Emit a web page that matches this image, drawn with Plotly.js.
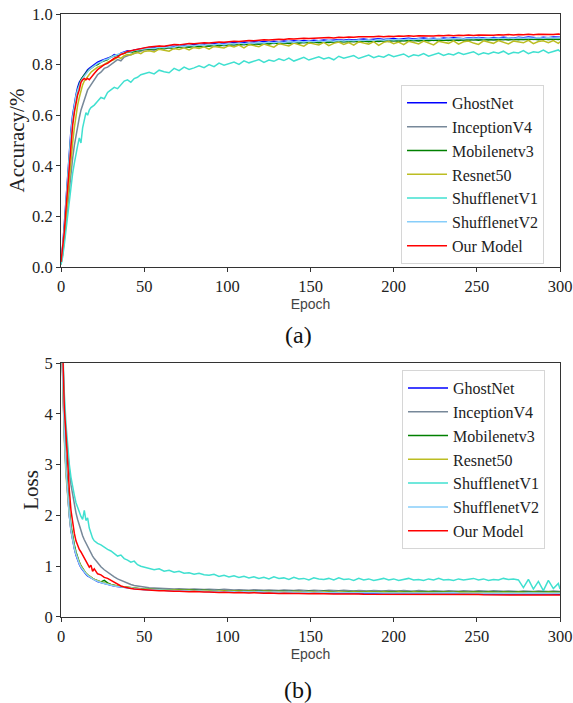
<!DOCTYPE html>
<html>
<head>
<meta charset="utf-8">
<script src="https://cdn.plot.ly/plotly-3.0.1.min.js"></script>
<style>html,body{margin:0;padding:0;background:#fff;}#chart{width:573px;height:703px;}</style>
</head>
<body>
<div id="chart"></div>
<script>
const modelNames = ["GhostNet","InceptionV4","Mobilenetv3","Resnet50","ShufflenetV1","ShufflenetV2","Our Model"];

const epochs = [0,1,2,3,4,5,6,7,8,9,10,11,12,13,14,15,16,17,18,19,20,
22,24,26,28,30,32,34,36,38,40,42,44,46,48,50,
53,56,59,62,65,68,71,74,77,80,83,86,89,92,95,98,101,104,107,110,
113,116,119,122,125,128,131,134,137,140,143,146,149,152,155,158,161,164,167,170,
173,176,179,182,185,188,191,194,197,200,203,206,209,212,215,218,221,224,227,230,
233,236,239,242,245,248,251,254,257,260,263,266,269,272,275,278,281,284,287,290,
293,296,299,300];

// ---- Accuracy ----
const accGhostNet = [0.02,0.08,0.17,0.27,0.37,0.46,0.54,0.60,0.65,0.68,0.71,0.73,0.74,0.75,0.765,0.77,0.78,0.785,0.79,0.795,0.80,
0.81,0.815,0.82,0.825,0.83,0.84,0.835,0.845,0.85,0.855,0.852,0.858,0.86,0.862,0.865,
0.868,0.866,0.872,0.870,0.874,0.872,0.876,0.878,0.875,0.880,
0.879,0.882,0.880,0.884,0.882,0.886,0.884,0.887,0.885,0.889,
0.887,0.890,0.888,0.891,0.889,0.892,0.890,0.893,0.891,0.894,
0.892,0.895,0.893,0.896,0.894,0.897,0.895,0.896,0.898,0.896,
0.899,0.897,0.899,0.901,0.898,0.900,0.902,0.899,0.901,0.903,
0.900,0.902,0.904,0.901,0.903,0.905,0.902,0.904,0.901,0.905,
0.903,0.906,0.904,0.902,0.906,0.904,0.907,0.905,0.903,0.907,
0.905,0.908,0.906,0.904,0.908,0.906,0.909,0.907,0.905,0.908,
0.906,0.909,0.907,0.908];
const accInceptionV4 = [0.01,0.05,0.11,0.18,0.25,0.32,0.38,0.43,0.48,0.52,0.56,0.59,0.62,0.64,0.66,0.68,0.70,0.71,0.72,0.73,0.74,
0.76,0.77,0.785,0.79,0.80,0.81,0.82,0.815,0.83,0.835,0.84,0.845,0.848,0.852,0.858,
0.860,0.857,0.864,0.862,0.867,0.863,0.870,0.868,0.872,0.869,
0.874,0.871,0.876,0.873,0.878,0.875,0.880,0.877,0.881,0.878,
0.883,0.880,0.884,0.882,0.886,0.883,0.887,0.884,0.888,0.885,
0.889,0.886,0.890,0.887,0.891,0.888,0.892,0.889,0.893,0.890,
0.894,0.890,0.895,0.892,0.894,0.891,0.896,0.893,0.897,0.893,
0.896,0.894,0.898,0.894,0.897,0.895,0.899,0.895,0.898,0.896,
0.900,0.896,0.899,0.897,0.901,0.897,0.900,0.898,0.901,0.897,
0.900,0.898,0.902,0.898,0.901,0.899,0.902,0.899,0.901,0.900,
0.902,0.899,0.901,0.900];
const accMobilenetv3 = [0.02,0.07,0.15,0.25,0.35,0.44,0.52,0.58,0.63,0.67,0.70,0.72,0.74,0.75,0.76,0.765,0.775,0.78,0.785,0.79,0.795,
0.80,0.81,0.815,0.82,0.83,0.835,0.838,0.842,0.845,0.85,0.848,0.853,0.855,0.858,0.862,
0.863,0.861,0.866,0.864,0.868,0.866,0.870,0.872,0.869,0.873,
0.871,0.875,0.873,0.877,0.874,0.878,0.876,0.880,0.877,0.881,
0.879,0.882,0.880,0.883,0.881,0.885,0.882,0.886,0.883,0.887,
0.884,0.888,0.885,0.889,0.886,0.889,0.887,0.890,0.888,0.891,
0.889,0.892,0.889,0.893,0.890,0.893,0.891,0.894,0.891,0.895,
0.892,0.895,0.893,0.896,0.893,0.896,0.894,0.897,0.894,0.897,
0.895,0.898,0.895,0.898,0.896,0.899,0.896,0.899,0.897,0.899,
0.897,0.900,0.897,0.900,0.898,0.900,0.898,0.901,0.898,0.901,
0.899,0.901,0.899,0.900];
const accResnet50 = [0.01,0.05,0.12,0.20,0.28,0.36,0.43,0.49,0.55,0.60,0.64,0.67,0.70,0.72,0.735,0.745,0.755,0.76,0.77,0.775,0.78,
0.79,0.795,0.80,0.81,0.815,0.82,0.83,0.825,0.835,0.84,0.838,0.845,0.848,0.843,0.852,
0.855,0.850,0.861,0.857,0.853,0.864,0.860,0.866,0.858,0.868,
0.864,0.870,0.861,0.872,0.869,0.866,0.875,0.870,0.877,0.866,
0.879,0.874,0.871,0.881,0.876,0.869,0.883,0.879,0.874,0.885,
0.880,0.873,0.886,0.882,0.878,0.888,0.875,0.884,0.889,0.880,
0.887,0.877,0.890,0.885,0.881,0.891,0.876,0.888,0.892,0.883,
0.889,0.879,0.892,0.887,0.882,0.893,0.886,0.878,0.892,0.888,
0.884,0.894,0.881,0.890,0.893,0.885,0.880,0.894,0.889,0.884,
0.895,0.887,0.882,0.893,0.890,0.886,0.896,0.883,0.891,0.894,
0.887,0.895,0.884,0.890];
const accShufflenetV1 = [0.01,0.04,0.09,0.15,0.21,0.27,0.32,0.37,0.41,0.45,0.48,0.51,0.49,0.55,0.58,0.61,0.60,0.62,0.63,0.635,0.64,
0.655,0.67,0.665,0.69,0.70,0.71,0.705,0.72,0.735,0.74,0.73,0.745,0.75,0.76,0.765,
0.77,0.763,0.778,0.772,0.768,0.785,0.776,0.79,0.781,0.787,
0.795,0.788,0.80,0.792,0.806,0.798,0.803,0.81,0.801,0.815,
0.807,0.812,0.82,0.809,0.818,0.813,0.823,0.816,0.826,0.814,
0.821,0.829,0.818,0.826,0.831,0.822,0.828,0.819,0.833,0.825,
0.83,0.836,0.824,0.832,0.838,0.827,0.834,0.829,0.84,0.831,
0.837,0.842,0.83,0.839,0.835,0.844,0.833,0.841,0.846,0.836,
0.843,0.838,0.848,0.84,0.845,0.851,0.839,0.847,0.842,0.85,
0.845,0.853,0.841,0.849,0.846,0.855,0.843,0.851,0.848,0.857,
0.846,0.853,0.858,0.852];
const accShufflenetV2 = [0.02,0.08,0.16,0.26,0.36,0.45,0.53,0.59,0.64,0.675,0.70,0.72,0.735,0.745,0.755,0.765,0.77,0.78,0.785,0.79,0.795,
0.805,0.81,0.818,0.822,0.83,0.835,0.84,0.843,0.848,0.852,0.85,0.856,0.858,0.861,0.864,
0.866,0.864,0.869,0.867,0.871,0.869,0.874,0.872,0.876,0.874,
0.878,0.876,0.880,0.878,0.882,0.879,0.883,0.881,0.885,0.882,
0.886,0.884,0.887,0.885,0.889,0.886,0.890,0.887,0.891,0.888,
0.892,0.889,0.893,0.890,0.894,0.891,0.895,0.892,0.896,0.893,
0.896,0.894,0.897,0.895,0.898,0.895,0.899,0.896,0.900,0.897,
0.900,0.898,0.901,0.898,0.902,0.899,0.902,0.900,0.903,0.900,
0.903,0.901,0.904,0.901,0.904,0.902,0.905,0.902,0.905,0.903,
0.905,0.903,0.906,0.903,0.906,0.904,0.906,0.904,0.907,0.904,
0.907,0.905,0.907,0.906];
const accOurModel = [0.02,0.07,0.14,0.23,0.32,0.41,0.49,0.56,0.61,0.65,0.68,0.70,0.73,0.74,0.745,0.74,0.745,0.74,0.75,0.755,0.765,
0.78,0.79,0.80,0.805,0.815,0.825,0.83,0.84,0.845,0.852,0.855,0.858,0.862,0.865,0.868,
0.870,0.872,0.874,0.873,0.877,0.879,0.878,0.881,0.883,0.882,
0.885,0.886,0.885,0.888,0.889,0.888,0.891,0.892,0.891,0.894,
0.895,0.894,0.897,0.898,0.897,0.899,0.900,0.899,0.902,0.901,
0.903,0.904,0.903,0.905,0.904,0.906,0.907,0.905,0.908,0.907,
0.909,0.908,0.910,0.909,0.911,0.910,0.912,0.910,0.912,0.911,
0.913,0.912,0.914,0.912,0.914,0.913,0.915,0.913,0.915,0.914,
0.916,0.914,0.916,0.915,0.917,0.915,0.917,0.916,0.918,0.916,
0.918,0.917,0.919,0.917,0.919,0.918,0.920,0.918,0.920,0.919,
0.921,0.919,0.921,0.920];

// ---- Loss ----
const lossGhostNet = [6.0,4.6,3.6,2.9,2.4,2.0,1.7,1.5,1.35,1.22,1.12,1.04,0.97,0.92,0.88,0.84,0.81,0.79,0.77,0.75,0.73,
0.70,0.68,0.66,0.64,0.62,0.61,0.60,0.59,0.58,0.57,0.565,0.56,0.55,0.545,0.54,
0.535,0.53,0.525,0.528,0.52,0.515,0.518,0.51,0.507,0.51,
0.503,0.50,0.504,0.498,0.495,0.499,0.493,0.49,0.494,0.488,
0.486,0.49,0.484,0.482,0.487,0.48,0.478,0.483,0.477,0.475,
0.48,0.474,0.472,0.477,0.471,0.47,0.475,0.469,0.468,0.473,
0.467,0.466,0.471,0.465,0.464,0.469,0.463,0.462,0.468,0.462,
0.461,0.466,0.46,0.46,0.465,0.459,0.458,0.464,0.458,0.457,
0.463,0.457,0.456,0.462,0.456,0.455,0.461,0.455,0.454,0.46,
0.454,0.453,0.459,0.453,0.452,0.458,0.452,0.452,0.457,0.451,
0.451,0.456,0.45,0.45];
const lossInceptionV4 = [6.2,5.0,4.2,3.6,3.2,2.9,2.6,2.4,2.2,2.05,1.92,1.8,1.7,1.6,1.52,1.45,1.38,1.32,1.26,1.2,1.15,
1.06,0.99,0.93,0.88,0.84,0.79,0.75,0.72,0.69,0.66,0.64,0.62,0.61,0.595,0.585,
0.575,0.57,0.562,0.566,0.555,0.552,0.558,0.548,0.545,0.552,
0.542,0.54,0.547,0.537,0.535,0.545,0.533,0.531,0.538,0.529,
0.528,0.536,0.526,0.525,0.533,0.524,0.522,0.531,0.521,0.52,
0.53,0.519,0.518,0.528,0.517,0.516,0.526,0.516,0.515,0.525,
0.514,0.514,0.524,0.513,0.512,0.523,0.512,0.511,0.522,0.511,
0.51,0.521,0.51,0.509,0.52,0.509,0.508,0.519,0.508,0.508,
0.518,0.507,0.507,0.517,0.506,0.506,0.516,0.506,0.505,0.515,
0.505,0.505,0.514,0.504,0.504,0.513,0.504,0.503,0.512,0.503,
0.503,0.511,0.502,0.502];
const lossMobilenetv3 = [6.0,4.7,3.7,3.0,2.5,2.1,1.8,1.58,1.42,1.28,1.17,1.08,1.01,0.95,0.9,0.86,0.83,0.8,0.78,0.76,0.74,
0.71,0.69,0.72,0.67,0.64,0.62,0.61,0.6,0.59,0.58,0.575,0.57,0.56,0.555,0.55,
0.545,0.54,0.543,0.535,0.532,0.536,0.528,0.525,0.53,0.522,
0.52,0.525,0.517,0.515,0.521,0.513,0.511,0.517,0.509,0.508,
0.514,0.506,0.505,0.511,0.504,0.503,0.509,0.502,0.501,0.507,
0.5,0.499,0.506,0.498,0.498,0.505,0.497,0.496,0.504,0.496,
0.495,0.503,0.495,0.494,0.502,0.494,0.493,0.501,0.493,0.492,
0.5,0.492,0.491,0.5,0.491,0.491,0.499,0.49,0.49,0.498,
0.49,0.489,0.498,0.489,0.489,0.497,0.488,0.488,0.497,0.488,
0.487,0.496,0.487,0.487,0.496,0.486,0.486,0.495,0.486,0.486,
0.495,0.485,0.486,0.494];
const lossResnet50 = [5.9,4.5,3.5,2.8,2.35,2.0,1.72,1.52,1.37,1.25,1.15,1.07,1.0,0.95,0.9,0.86,0.83,0.8,0.78,0.76,0.74,
0.71,0.69,0.67,0.65,0.63,0.62,0.61,0.6,0.59,0.58,0.57,0.565,0.56,0.55,0.545,
0.54,0.535,0.538,0.53,0.527,0.531,0.522,0.52,0.525,0.516,
0.514,0.52,0.511,0.509,0.515,0.507,0.505,0.511,0.503,0.502,
0.508,0.5,0.499,0.505,0.497,0.496,0.503,0.495,0.494,0.5,
0.493,0.492,0.499,0.491,0.49,0.497,0.489,0.489,0.495,0.488,
0.487,0.494,0.486,0.486,0.493,0.485,0.485,0.492,0.484,0.484,
0.491,0.483,0.483,0.49,0.482,0.482,0.489,0.481,0.481,0.488,
0.481,0.48,0.488,0.48,0.48,0.487,0.479,0.479,0.487,0.479,
0.479,0.486,0.478,0.478,0.486,0.478,0.478,0.485,0.477,0.477,
0.485,0.477,0.477,0.484];
const lossShufflenetV1 = [6.3,5.2,4.4,3.8,3.35,3.0,2.75,2.55,2.4,2.25,2.15,2.05,1.98,1.92,2.1,1.9,1.95,1.75,1.62,1.55,1.5,
1.45,1.42,1.37,1.33,1.3,1.25,1.2,1.22,1.15,1.12,1.08,1.1,1.03,1.0,0.98,
0.96,0.93,0.95,0.9,0.92,0.88,0.9,0.86,0.87,0.84,
0.86,0.83,0.82,0.84,0.8,0.82,0.79,0.81,0.78,0.8,
0.77,0.79,0.76,0.78,0.75,0.79,0.76,0.77,0.74,0.78,
0.75,0.76,0.73,0.77,0.75,0.74,0.76,0.73,0.77,0.74,
0.75,0.72,0.76,0.73,0.75,0.72,0.74,0.76,0.73,0.75,
0.72,0.74,0.76,0.73,0.74,0.72,0.75,0.73,0.76,0.73,
0.74,0.72,0.75,0.73,0.74,0.76,0.73,0.75,0.72,0.74,
0.73,0.76,0.74,0.75,0.73,0.58,0.74,0.55,0.7,0.52,
0.72,0.56,0.66,0.55];
const lossShufflenetV2 = [5.95,4.6,3.6,2.9,2.4,2.02,1.72,1.52,1.36,1.24,1.13,1.05,0.98,0.93,0.88,0.85,0.82,0.79,0.77,0.75,0.73,
0.7,0.68,0.66,0.64,0.62,0.61,0.6,0.59,0.58,0.57,0.56,0.555,0.55,0.545,0.54,
0.535,0.53,0.527,0.522,0.525,0.517,0.515,0.518,0.51,0.508,
0.512,0.504,0.502,0.506,0.499,0.498,0.502,0.495,0.494,0.498,
0.491,0.49,0.495,0.488,0.487,0.492,0.486,0.485,0.49,0.484,
0.483,0.488,0.482,0.481,0.486,0.48,0.479,0.484,0.479,0.478,
0.483,0.477,0.477,0.482,0.476,0.476,0.481,0.475,0.475,0.48,
0.474,0.474,0.479,0.474,0.473,0.478,0.473,0.473,0.477,0.472,
0.472,0.476,0.472,0.471,0.476,0.471,0.471,0.475,0.47,0.47,
0.475,0.47,0.47,0.474,0.469,0.469,0.474,0.469,0.469,0.473,
0.468,0.468,0.473,0.468];
const lossOurModel = [6.5,5.2,4.1,3.6,3.0,2.5,2.1,1.85,1.65,1.5,1.4,1.33,1.28,1.22,1.15,1.1,1.03,0.98,1.02,0.9,0.95,
0.85,0.83,0.78,0.76,0.72,0.68,0.64,0.61,0.59,0.57,0.56,0.55,0.545,0.54,0.53,
0.525,0.52,0.515,0.518,0.508,0.505,0.509,0.5,0.497,0.5,
0.492,0.49,0.494,0.486,0.484,0.488,0.48,0.478,0.482,0.475,
0.473,0.477,0.47,0.469,0.473,0.466,0.465,0.469,0.462,0.461,
0.465,0.459,0.458,0.462,0.456,0.455,0.459,0.453,0.452,0.456,
0.451,0.45,0.454,0.448,0.448,0.452,0.446,0.446,0.45,0.445,
0.444,0.448,0.443,0.443,0.447,0.442,0.441,0.446,0.44,0.44,
0.444,0.439,0.439,0.443,0.438,0.438,0.442,0.437,0.437,0.441,
0.436,0.436,0.44,0.435,0.435,0.439,0.434,0.434,0.438,0.433,
0.433,0.437,0.432,0.432];

const accSeries = [accGhostNet,accInceptionV4,accMobilenetv3,accResnet50,accShufflenetV1,accShufflenetV2,accOurModel];
const lossSeries = [lossGhostNet,lossInceptionV4,lossMobilenetv3,lossResnet50,lossShufflenetV1,lossShufflenetV2,lossOurModel];
const colors = ["#0000ff","#778899","#008000","#bcbd22","#40e0d0","#87cefa","#ff0000"];

const serif = "'Liberation Serif', 'Times New Roman', serif";
const traces = [];
modelNames.forEach((name,i)=>{
  traces.push({x:epochs,y:accSeries[i],type:"scatter",mode:"lines",name:name,
    line:{color:colors[i],width:1.5},xaxis:"x",yaxis:"y",legend:"legend"});
});
modelNames.forEach((name,i)=>{
  traces.push({x:epochs,y:lossSeries[i],type:"scatter",mode:"lines",name:name,
    line:{color:colors[i],width:1.5},xaxis:"x2",yaxis:"y2",legend:"legend2"});
});

const axisCommon = {showline:true,mirror:true,linecolor:"#333",linewidth:1,ticks:"outside",ticklen:4,
  tickcolor:"#333",showgrid:false,zeroline:false,tickfont:{family:serif,size:16.5,color:"#222"}};
const legendCommon = {bgcolor:"#fff",bordercolor:"#d6d6d6",borderwidth:1,font:{family:serif,size:16,color:"#222"},
  xanchor:"left",yanchor:"top",tracegroupgap:0,itemwidth:40};

const layout = {
  width:573,height:703,autosize:false,
  margin:{l:61,r:13,t:14,b:86},
  paper_bgcolor:"#fff",plot_bgcolor:"#fff",
  showlegend:true,
  xaxis:Object.assign({},axisCommon,{domain:[0,1],anchor:"y",range:[0,300],dtick:50,
    title:{text:"Epoch",font:{family:"Liberation Sans, Arial, sans-serif",size:14,color:"#444"},standoff:3}}),
  yaxis:Object.assign({},axisCommon,{domain:[0.5804,1],anchor:"x",range:[0,1],dtick:0.2,tickformat:".1f",
    title:{text:"Accuracy/%",font:{family:serif,size:21,color:"#222"},standoff:1}}),
  xaxis2:Object.assign({},axisCommon,{domain:[0,1],anchor:"y2",range:[0,300],dtick:50,
    title:{text:"Epoch",font:{family:"Liberation Sans, Arial, sans-serif",size:14,color:"#444"},standoff:3}}),
  yaxis2:Object.assign({},axisCommon,{domain:[0,0.4212],anchor:"x2",range:[0,5],dtick:1,
    title:{text:"Loss",font:{family:serif,size:21,color:"#222"},standoff:0}}),
  legend:Object.assign({},legendCommon,{x:0.6814,y:0.8823}),
  legend2:Object.assign({},legendCommon,{x:0.6834,y:0.4096}),
  annotations:[
    {text:"(a)",xref:"paper",yref:"paper",x:0.475,y:0.4677,xanchor:"center",yanchor:"middle",showarrow:false,
      font:{family:serif,size:24,color:"#111"}},
    {text:"(b)",xref:"paper",yref:"paper",x:0.475,y:-0.1211,xanchor:"center",yanchor:"middle",showarrow:false,
      font:{family:serif,size:24,color:"#111"}}
  ]
};

Plotly.newPlot("chart",traces,layout,{displayModeBar:false,staticPlot:true});
</script>
</body>
</html>
